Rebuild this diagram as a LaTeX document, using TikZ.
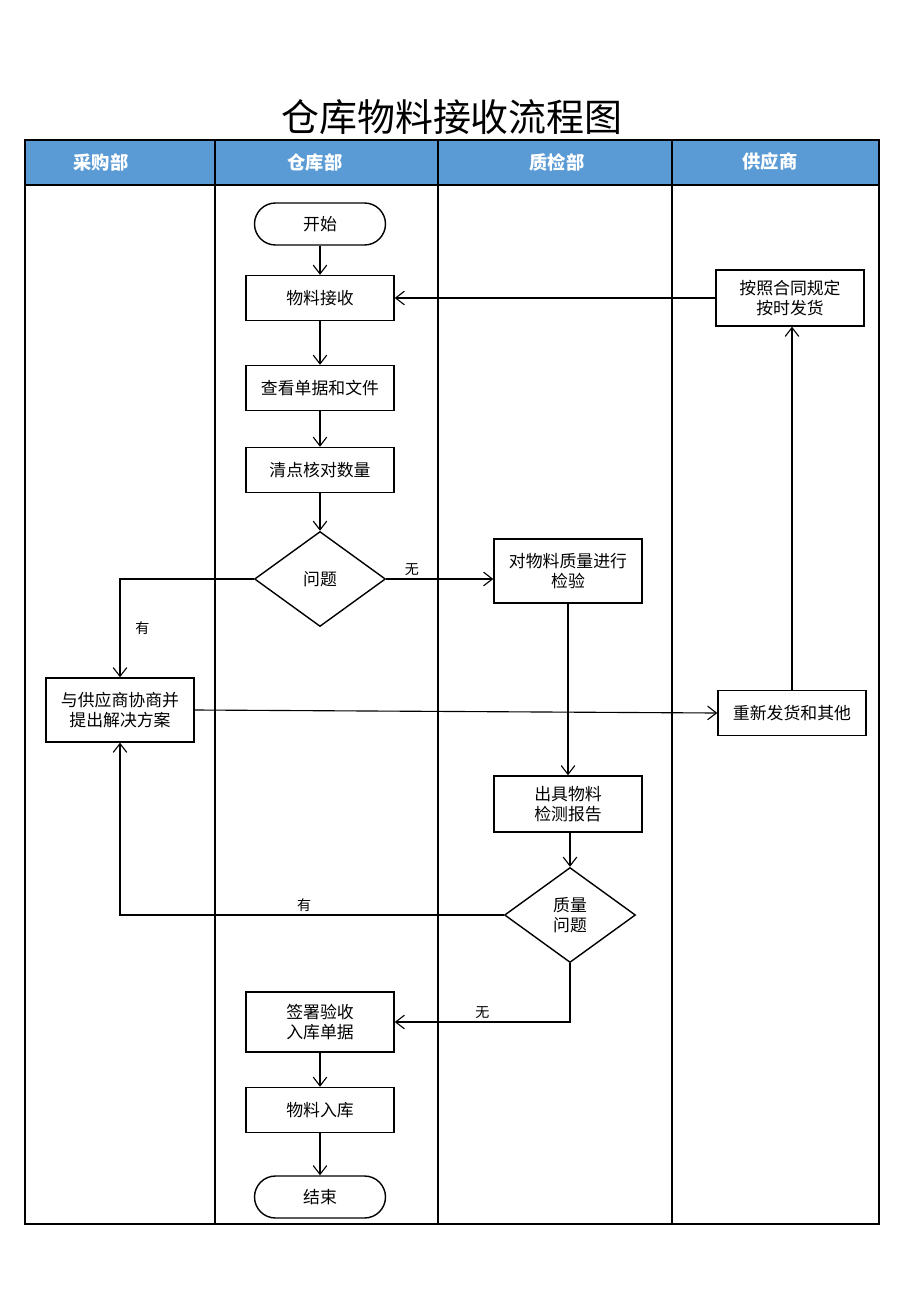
\documentclass[tikz,border=0pt]{standalone}
\usepackage{fontspec}
\setmainfont{Noto Sans CJK SC}
\usepackage{tikz}
\usetikzlibrary{shapes.geometric,arrows.meta,positioning,calc}

\definecolor{laneblue}{RGB}{91,155,213}

\begin{document}
\begin{tikzpicture}[x=0.25mm,y=-0.25mm,
        >={Straight Barb[length=2.2mm,width=3.4mm]},
        box/.style={draw,line width=1pt,minimum width=37mm,minimum height=11.25mm,
            align=center,inner sep=1pt,font=\fontsize{12}{14.5}\selectfont},
        term/.style={draw,line width=1pt,rounded corners=5.25mm,minimum width=32.75mm,
            minimum height=10.5mm,font=\fontsize{12}{14.5}\selectfont},
        dec/.style={draw,line width=1pt,diamond,inner sep=0pt,minimum width=32.75mm,
            minimum height=23.75mm,align=center,font=\fontsize{12}{14.5}\selectfont},
        lbl/.style={font=\fontsize{10}{12}\selectfont,inner sep=2pt},
        head/.style={text=white,font=\bfseries\fontsize{13}{15}\selectfont},
        flow/.style={->,line width=0.8pt}
    ]
    \useasboundingbox (0,0) rectangle (920,1301);

    % title and lanes
    \node (title) at (452,117) {\fontsize{27}{30}\selectfont 仓库物料接收流程图};
    \fill[laneblue] (25,140) rectangle (879,185);
    \draw[line width=1.2pt] (25,140) rectangle (879,1224);
    \draw[line width=1.2pt] (25,185) -- (879,185);
    \foreach \x in {215,438,672} {
        \draw[line width=1.2pt] (\x,140) -- (\x,1224);
    }
    \foreach \x/\name in {101/采购部, 315/仓库部, 557/质检部, 770/供应商} {
        \node[head] at (\x,162) {\name};
    }

    % nodes
    \node[term] (start) at (320,224) {开始};
    \node[box] (recv) at (320,298) {物料接收};
    \node[box] (docs) at (320,388) {查看单据和文件};
    \node[box] (count) at (320,470) {清点核对数量};
    \node[dec] (q1) at (320,579) {问题};
    \node[box,minimum height=16mm] (inspect) at (568,571) {对物料质量进行\\检验};
    \node[box,minimum height=14mm] (ship) at (790,298) {按照合同规定\\按时发货};
    \node[box,minimum height=16mm] (nego) at (120,710) {与供应商协商并\\提出解决方案};
    \node[box] (redo) at (792,713) {重新发货和其他};
    \node[box,minimum height=14mm] (report) at (568,804) {出具物料\\检测报告};
    \node[dec] (q2) at (570,915) {质量\\问题};
    \node[box,minimum height=15mm] (sign) at (320,1022) {签署验收\\入库单据};
    \node[box] (store) at (320,1110) {物料入库};
    \node[term] (stop) at (320,1197) {结束};

    % connectors
    \draw[flow] (start) -- (recv);
    \draw[flow] (ship) -- (recv);
    \draw[flow] (recv) -- (docs);
    \draw[flow] (docs) -- (count);
    \draw[flow] (count) -- (q1);
    \draw[flow] (q1.east) -- node[lbl,above,pos=0.24] {无} (q1.east -| inspect.west);
    \draw[flow] (q1.west) -| node[lbl,right,pos=0.75,xshift=3mm] {有} (nego.north);
    \draw[flow] (nego.east) -- (redo.west);
    \draw[flow] (redo.north) -- (redo.north |- ship.south);
    \draw[flow] (inspect) -- (report);
    \draw[flow] (report.south -| q2.north) -- (q2.north);
    \draw[flow] (q2.west) -| node[lbl,above,pos=0.26] {有} (nego.south);
    \draw[flow] (q2.south) |- node[lbl,above,pos=0.75] {无} (sign.east);
    \draw[flow] (sign) -- (store);
    \draw[flow] (store) -- (stop);
\end{tikzpicture}
\end{document}
